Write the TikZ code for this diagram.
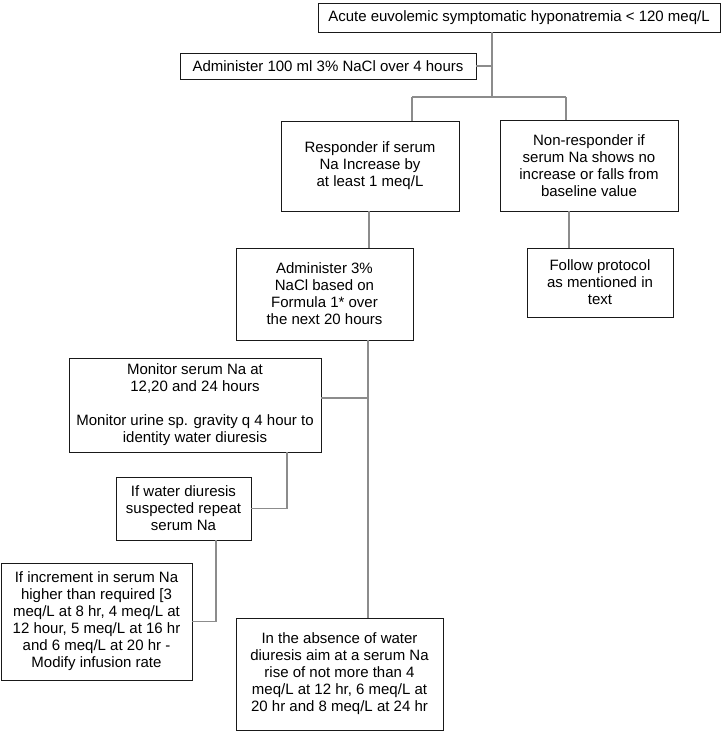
\documentclass[tikz,border=0pt]{standalone}
\usepackage{fontspec}
\setmainfont{Liberation Sans}
\begin{document}
\begin{tikzpicture}[x=1pt,y=-1pt]
            \tikzstyle{every node} = [align=center, draw=black!90, line width=0.9pt, inner sep=0pt, font=\fontsize{15}{17}\selectfont]
            \tikzstyle{link} = [draw=black!45, line width=1.6pt]
            \useasboundingbox (0,0) rectangle (722,732);

            \node[minimum width=402pt, minimum height=29pt](acute) at (519,17.5){Acute euvolemic symptomatic hyponatremia < 120 meq/L};
            \node[minimum width=296pt, minimum height=26pt](admin) at (328,66){Administer 100 ml 3\% NaCl over 4 hours};
            \node[minimum width=178pt, minimum height=90pt](resp) at (370,166){Responder if serum\\Na Increase by\\at least 1 meq/L};
            \node[minimum width=178pt, minimum height=91pt](nonresp) at (589,165.5){Non-responder if\\serum Na shows no\\increase or falls from\\baseline value};
            \node[minimum width=177pt, minimum height=92pt](formula) at (324.5,294){Administer 3\%\\NaCl based on\\Formula 1* over\\the next 20 hours};
            \node[minimum width=146pt, minimum height=69pt](follow) at (600,282.5){Follow protocol\\as mentioned in\\text};
            \node[minimum width=252pt, minimum height=94pt](monitor) at (195,405){Monitor serum Na at\\12,20 and 24 hours\\[17pt]Monitor urine sp. gravity q 4 hour to\\identity water diuresis};
            \node[minimum width=135pt, minimum height=63pt](diuresis) at (183.5,508.5){If water diuresis\\suspected repeat\\serum Na};
            \node[minimum width=191pt, minimum height=117pt](increment) at (96.5,621.5){If increment in serum Na\\higher than required [3\\meq/L at 8 hr, 4 meq/L at\\12 hour, 5 meq/L at 16 hr\\and 6 meq/L at 20 hr -\\Modify infusion rate};
            \node[minimum width=207pt, minimum height=112pt](absence) at (339.5,674){In the absence of water\\diuresis aim at a serum Na\\rise of not more than 4\\meq/L at 12 hr, 6 meq/L at\\20 hr and 8 meq/L at 24 hr};

            % junctions
            \coordinate (top) at (492,97);
            \coordinate (left) at (412,97);
            \coordinate (right) at (566,97);
            \coordinate (main) at (368,398);

            \draw[link] (acute.south -| top) -- (top);
            \draw[link] (admin.east) -- (admin.east -| top);
            \draw[link] (left) -- (right);
            \draw[link] (left) -- (left |- resp.north);
            \draw[link] (right) -- (right |- nonresp.north);
            \draw[link] (369,0 |- resp.south) -- (369,0 |- formula.north);
            \draw[link] (569,0 |- nonresp.south) -- (569,0 |- follow.north);

            \draw[link] (formula.south -| main) -- (absence.north -| main);
            \draw[link] (monitor.east |- main) -- (main);
            \draw[link] (287,0 |- monitor.south) |- (diuresis.east);
            \draw[link] (216,0 |- diuresis.south) |- (increment.east);
      \end{tikzpicture}
\end{document}
